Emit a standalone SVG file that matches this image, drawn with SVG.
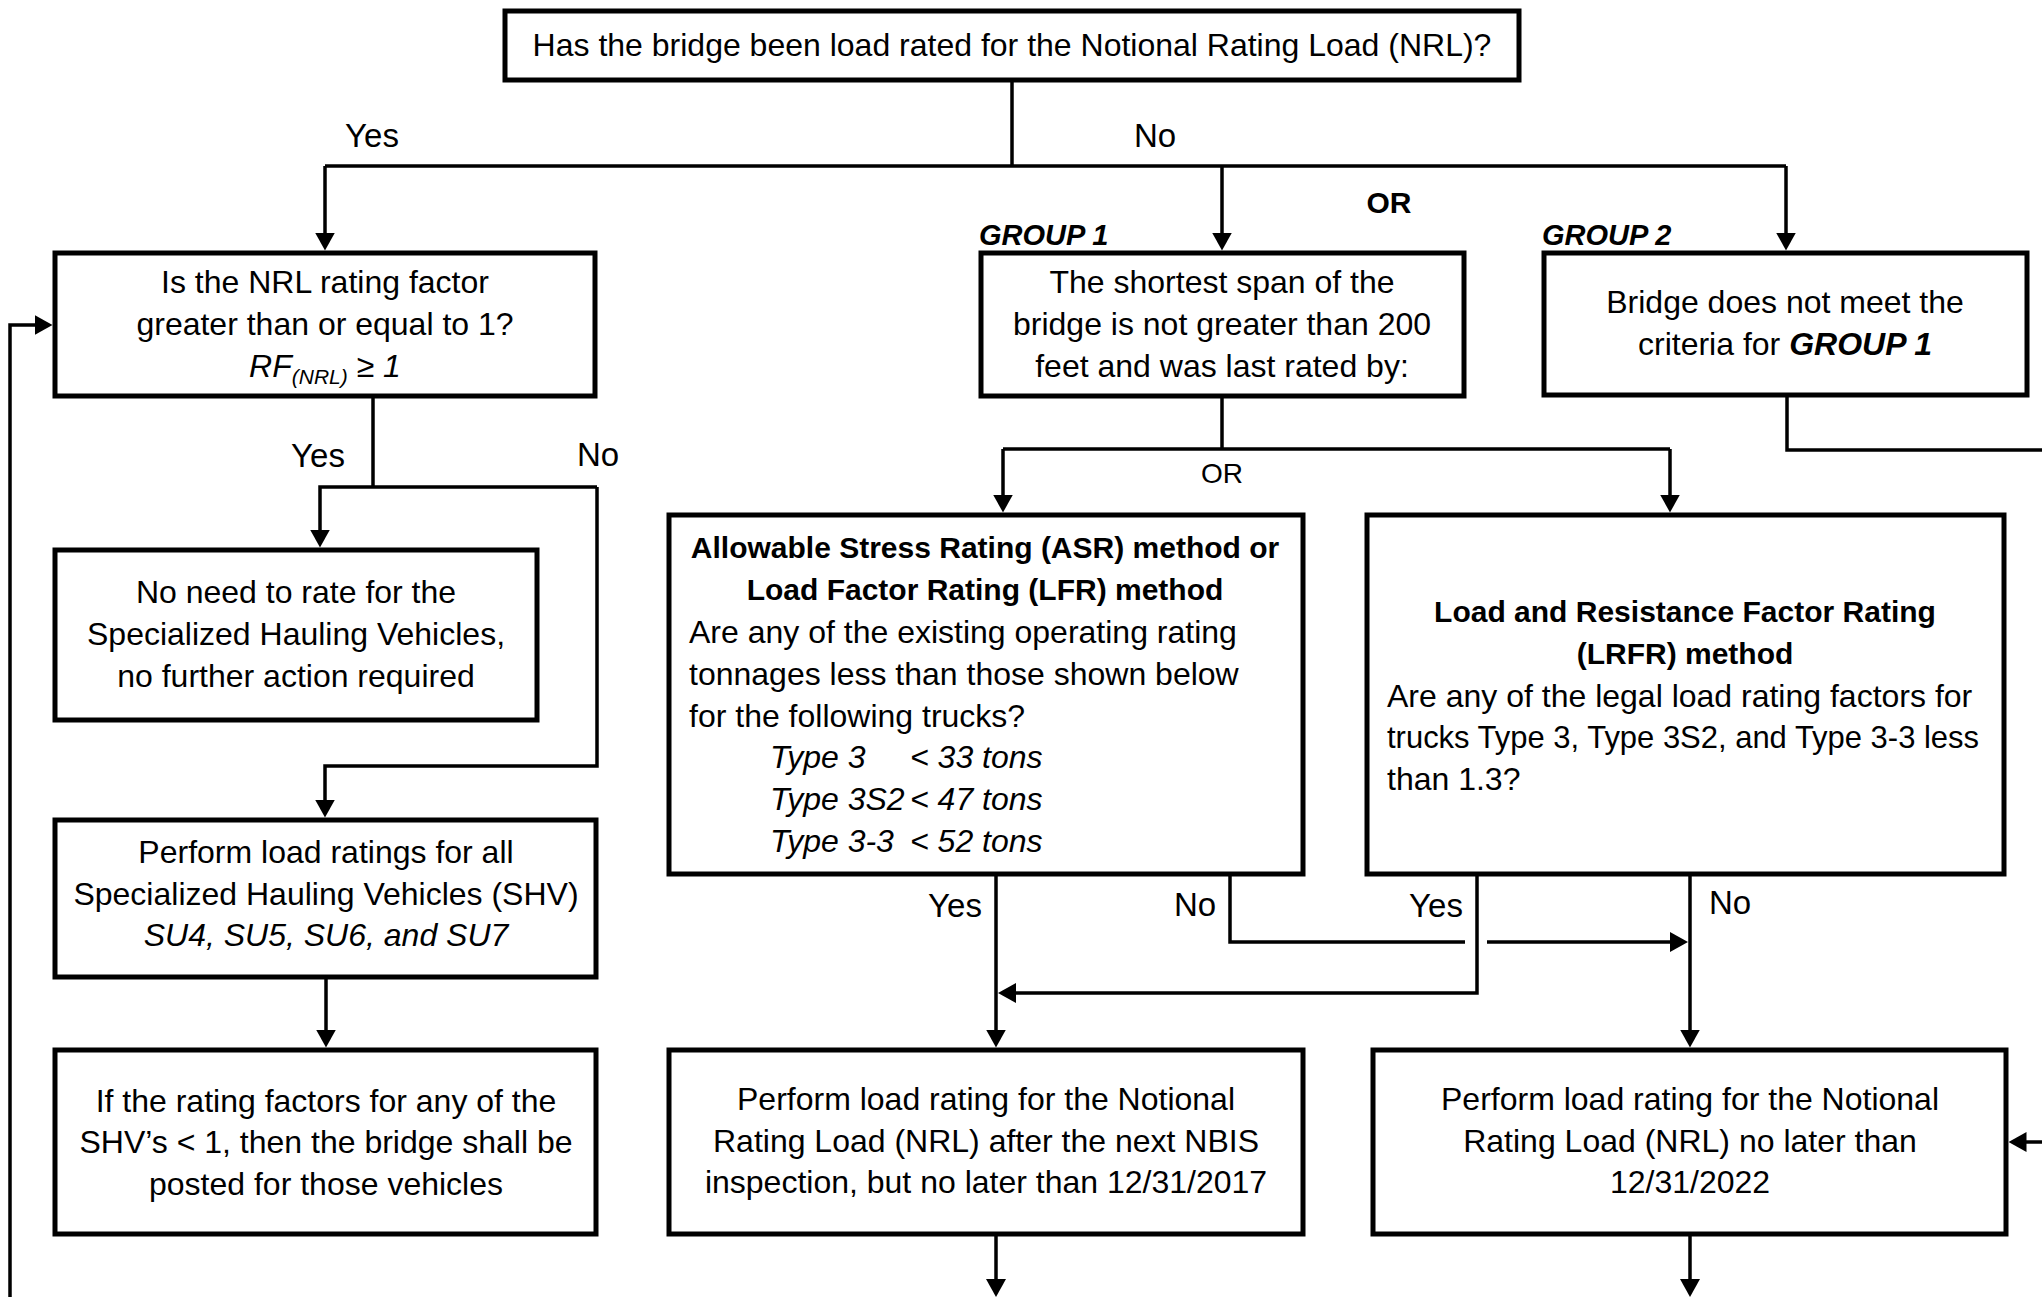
<svg xmlns="http://www.w3.org/2000/svg" width="2042" height="1297" viewBox="0 0 2042 1297">
<style>
  .box { fill: #fff; stroke: #000; stroke-width: 5; }
  .ln { fill: none; stroke: #000; stroke-width: 3.5; }
  .arr { marker-end: url(#ah); }
  text { font-family: "Liberation Sans", Arial, sans-serif; fill: #000; }
  .t { font-size: 32px; }
  .c { text-anchor: middle; }
  .b { font-size: 30px; font-weight: bold; }
  .i { font-style: italic; }
  .lbl { font-size: 33px; text-anchor: middle; }
  .grp { font-size: 29px; font-weight: bold; font-style: italic; }
</style>
<defs>
  <marker id="ah" viewBox="0 0 18 20" refX="14" refY="10" markerWidth="18" markerHeight="20" markerUnits="userSpaceOnUse" orient="auto">
    <path d="M0,0 L18,10 L0,20 z" fill="#000"/>
  </marker>
</defs>
<rect width="2042" height="1297" fill="#fff"/>

<g id="connectors">
  <path class="ln" d="M1012,80 V166"/>
  <path class="ln" d="M325,166 H1786"/>
  <path class="ln arr" d="M325,166 V246.5"/>
  <path class="ln arr" d="M1222,166 V246.5"/>
  <path class="ln arr" d="M1786,166 V246.5"/>
  <path class="ln" d="M373,397 V487"/>
  <path class="ln arr" d="M597,487 H320 V543.5"/>
  <path class="ln arr" d="M597,487 V766 H325 V813.5"/>
  <path class="ln arr" d="M326,978 V1043.5"/>
  <path class="ln arr" d="M10,1297 V325 H48.5"/>
  <path class="ln" d="M1222,397 V449"/>
  <path class="ln" d="M1003,449 H1670"/>
  <path class="ln arr" d="M1003,449 V508.5"/>
  <path class="ln arr" d="M1670,449 V508.5"/>
  <path class="ln" d="M1787,396 V450 H2042"/>
  <path class="ln arr" d="M2042,1142 H2012.5"/>
  <path class="ln arr" d="M996,875 V1043.5"/>
  <path class="ln" d="M1230,875 V942 H1465"/>
  <path class="ln arr" d="M1487,942 H1684"/>
  <path class="ln arr" d="M1477,875 V993 H1002"/>
  <path class="ln arr" d="M1690,875 V1043.5"/>
  <path class="ln arr" d="M996,1235 V1293"/>
  <path class="ln arr" d="M1690,1235 V1293"/>
</g>

<g id="labels">
  <text class="lbl" x="372" y="147">Yes</text>
  <text class="lbl" x="1155" y="147">No</text>
  <text class="lbl" x="318" y="467">Yes</text>
  <text class="lbl" x="598" y="466">No</text>
  <text class="lbl" x="955" y="917">Yes</text>
  <text class="lbl" x="1195" y="916">No</text>
  <text class="lbl" x="1436" y="917">Yes</text>
  <text class="lbl" x="1730" y="914">No</text>
  <text class="b c" x="1389" y="213">OR</text>
  <text class="c" x="1222" y="483" font-size="28">OR</text>
  <text class="grp" x="979" y="245">GROUP 1</text>
  <text class="grp" x="1542" y="245">GROUP 2</text>
</g>

<g id="node-top">
  <rect class="box" x="505" y="11" width="1014" height="69"/>
  <text class="t c" x="1012" y="56">Has the bridge been load rated for the Notional Rating Load (NRL)?</text>
</g>

<g id="node-nrl">
  <rect class="box" x="55" y="253" width="540" height="143"/>
  <text class="t c" x="325" y="293">Is the NRL rating factor</text>
  <text class="t c" x="325" y="335">greater than or equal to 1?</text>
  <text class="t c i" x="325" y="377">RF<tspan font-size="21" dy="7">(NRL)</tspan><tspan dy="-7"> ≥ 1</tspan></text>
</g>

<g id="node-noneed">
  <rect class="box" x="55" y="550" width="482" height="170"/>
  <text class="t c" x="296" y="603">No need to rate for the</text>
  <text class="t c" x="296" y="645">Specialized Hauling Vehicles,</text>
  <text class="t c" x="296" y="687">no further action required</text>
</g>

<g id="node-perform-shv">
  <rect class="box" x="55" y="820" width="541" height="157"/>
  <text class="t c" x="326" y="863">Perform load ratings for all</text>
  <text class="t c" x="326" y="905">Specialized Hauling Vehicles (SHV)</text>
  <text class="t c i" x="326" y="946">SU4, SU5, SU6, and SU7</text>
</g>

<g id="node-post">
  <rect class="box" x="55" y="1050" width="541" height="184"/>
  <text class="t c" x="326" y="1112">If the rating factors for any of the</text>
  <text class="t c" x="326" y="1153">SHV’s &lt; 1, then the bridge shall be</text>
  <text class="t c" x="326" y="1195">posted for those vehicles</text>
</g>

<g id="node-group1">
  <rect class="box" x="981" y="253" width="483" height="143"/>
  <text class="t c" x="1222" y="293">The shortest span of the</text>
  <text class="t c" x="1222" y="335">bridge is not greater than 200</text>
  <text class="t c" x="1222" y="377">feet and was last rated by:</text>
</g>

<g id="node-group2">
  <rect class="box" x="1544" y="253" width="483" height="142"/>
  <text class="t c" x="1785" y="313">Bridge does not meet the</text>
  <text class="t c" x="1785" y="355">criteria for <tspan font-weight="bold" font-style="italic">GROUP 1</tspan></text>
</g>

<g id="node-asr">
  <rect class="box" x="669" y="515" width="634" height="359"/>
  <text class="b c" x="985" y="558">Allowable Stress Rating (ASR) method or</text>
  <text class="b c" x="985" y="600">Load Factor Rating (LFR) method</text>
  <text class="t" x="689" y="643">Are any of the existing operating rating</text>
  <text class="t" x="689" y="685">tonnages less than those shown below</text>
  <text class="t" x="689" y="727">for the following trucks?</text>
  <text class="t i" y="768"><tspan x="770">Type 3</tspan><tspan x="910">&lt; 33 tons</tspan></text>
  <text class="t i" y="810"><tspan x="770">Type 3S2</tspan><tspan x="910">&lt; 47 tons</tspan></text>
  <text class="t i" y="852"><tspan x="770">Type 3-3</tspan><tspan x="910">&lt; 52 tons</tspan></text>
</g>

<g id="node-lrfr">
  <rect class="box" x="1367" y="515" width="637" height="359"/>
  <text class="b c" x="1685" y="622">Load and Resistance Factor Rating</text>
  <text class="b c" x="1685" y="664">(LRFR) method</text>
  <text class="t" x="1387" y="707">Are any of the legal load rating factors for</text>
  <text class="t" x="1387" y="748" textLength="592" lengthAdjust="spacingAndGlyphs">trucks Type 3, Type 3S2, and Type 3-3 less</text>
  <text class="t" x="1387" y="790">than 1.3?</text>
</g>

<g id="node-nrl-2017">
  <rect class="box" x="669" y="1050" width="634" height="184"/>
  <text class="t c" x="986" y="1110">Perform load rating for the Notional</text>
  <text class="t c" x="986" y="1152">Rating Load (NRL) after the next NBIS</text>
  <text class="t c" x="986" y="1193">inspection, but no later than 12/31/2017</text>
</g>

<g id="node-nrl-2022">
  <rect class="box" x="1373" y="1050" width="633" height="184"/>
  <text class="t c" x="1690" y="1110">Perform load rating for the Notional</text>
  <text class="t c" x="1690" y="1152">Rating Load (NRL) no later than</text>
  <text class="t c" x="1690" y="1193">12/31/2022</text>
</g>
</svg>
